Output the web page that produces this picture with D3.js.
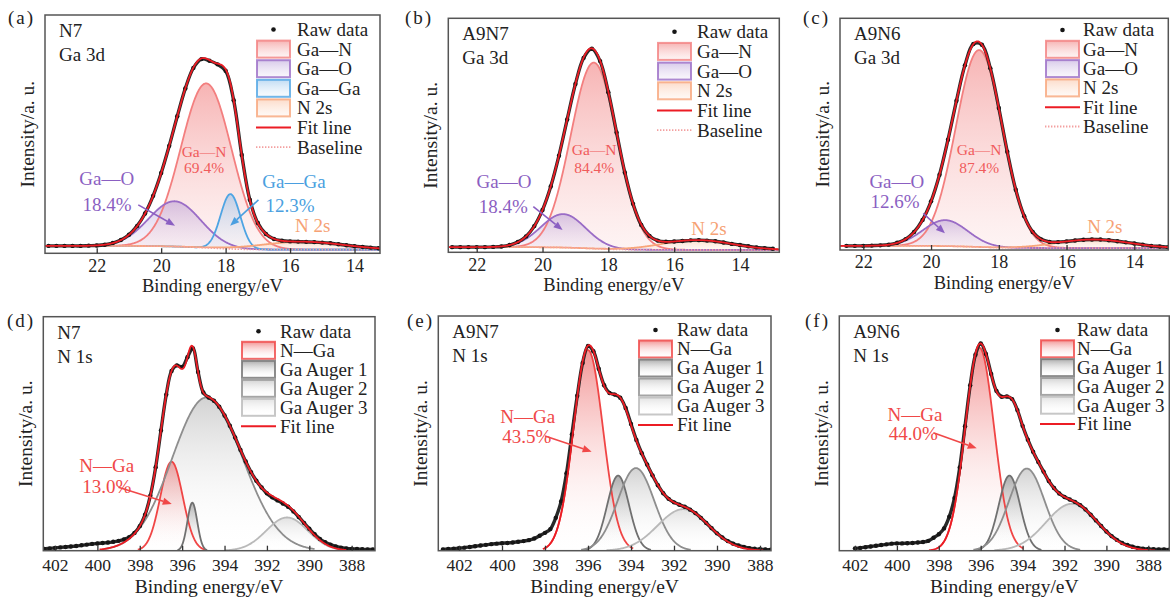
<!DOCTYPE html>
<html>
<head>
<meta charset="utf-8">
<script src="https://cdn.jsdelivr.net/npm/d3@7"></script>
<style>
  html, body { margin: 0; padding: 0; background: #fff; }
  svg { display: block; }
</style>
</head>
<body>
<svg id="fig" width="1170" height="597"></svg>
<script>
// ---------------------------------------------------------------------------
// XPS peak fitting: Ga 3d (top row) and N 1s (bottom row) for N7, A9N7, A9N6.
// Binding energy in eV, intensity in % of the axis height (a. u.).
// ---------------------------------------------------------------------------

const ga3dTicks = [22, 20, 18, 16, 14];
const n1sTicks = [402, 400, 398, 396, 394, 392, 390, 388];

// ----- (a) N7, Ga 3d -----
const rawStartA = 23.5, rawStepA = -0.25;
const rawA = [3.1, 3.1, 3.1, 3.1, 3.1, 3.2, 3.3, 3.6, 4.3, 5.6, 7.8, 11.4, 16.7, 24.1, 33.7,
  45.1, 57.5, 69.2, 77.8, 81.5, 80.8, 79.3, 76.6, 64.2, 41.3, 22.5, 12.7, 8.1, 6.0, 5.3,
  5.0, 4.9, 4.8, 4.7, 4.5, 4.2, 3.8, 3.4, 3.0, 2.7, 2.4, 2.1];
const namesA = ["Ga—N", "Ga—O", "Ga—Ga", "N 2s"];
const centerA = [18.6, 19.58, 17.85, 15.6];
const heightA = [69, 19, 23, 3.3];
const fwhmA = [1.85, 1.9, 0.72, 3.0];
const baselineA = [3.1, 1.5];          // high-BE end, low-BE end
const shareA = ["69.4%", "18.4%", "12.3%"];

// ----- (b) A9N7, Ga 3d -----
const rawStartB = 22.75, rawStepB = -0.25;
const rawB = [2.2, 2.2, 2.2, 2.2, 2.2, 2.3, 2.5, 3.1, 4.4, 6.8, 11.2, 18.1, 28.1, 41.3, 56.8,
  71.9, 83.1, 87.0, 81.7, 68.4, 51.2, 34.1, 20.7, 11.7, 7.0, 5.0, 4.5, 4.6, 4.8, 5.1,
  5.2, 5.0, 4.7, 4.2, 3.6, 3.1, 2.6, 2.1, 1.8, 1.5];
const namesB = ["Ga—N", "Ga—O", "N 2s"];
const centerB = [18.44, 19.37, 15.3];
const heightB = [79.5, 14.3, 4.2];
const fwhmB = [1.65, 1.6, 2.5];
const baselineB = [2.2, 1.0];
const shareB = ["84.4%", "18.4%"];

// ----- (c) A9N6, Ga 3d -----
const rawStartC = 22.5, rawStepC = -0.25;
const rawC = [1.8, 1.8, 1.8, 1.9, 2.0, 2.3, 3.1, 4.7, 7.8, 13.0, 21.0, 32.5, 47.6, 64.4, 79.7,
  88.9, 88.6, 78.4, 61.3, 42.4, 26.0, 14.6, 7.8, 4.6, 3.5, 3.4, 3.7, 4.1, 4.4, 4.5,
  4.5, 4.2, 3.8, 3.3, 2.8, 2.3, 1.8, 1.5, 1.2];
const namesC = ["Ga—N", "Ga—O", "N 2s"];
const centerC = [18.58, 19.58, 15.2];
const heightC = [85, 11.2, 3.7];
const fwhmC = [1.62, 1.55, 2.5];
const baselineC = [1.8, 0.8];
const shareC = ["87.4%", "12.6%"];

// ----- (d) N7, N 1s -----
const rawStartD = 402.5, rawStepD = -0.25;
const rawD = [0.8, 1.0, 1.2, 1.4, 1.6, 1.8, 2.0, 2.3, 2.6, 2.9, 3.1, 3.3, 3.5, 3.8, 4.2,
  4.8, 5.8, 7.6, 10.5, 15.4, 23.5, 35.7, 51.4, 66.7, 76.8, 79.2, 78.5, 82.7, 86.5, 76.4,
  67.6, 65.5, 64.1, 61.5, 57.8, 53.4, 48.4, 43.1, 38.1, 33.6, 29.9, 27.0, 24.5, 22.8, 21.5,
  20.2, 18.8, 16.8, 14.4, 11.9, 9.4, 7.0, 5.0, 3.6, 2.6, 1.8, 1.3, 1.0, 0.8, 0.7,
  0.6, 0.5, 0.5];
const namesN1s = ["N—Ga", "Ga Auger 1", "Ga Auger 2", "Ga Auger 3"];
const centerD = [396.5, 395.52, 394.85, 391.05];
const heightD = [38, 20.5, 65.5, 14.2];
const fwhmHighD = [1.25, 0.55, 3.8, 2.3];   // width on the high-BE side
const fwhmLowD = [1.25, 0.55, 4.0, 2.3];    // width on the low-BE side
const fitWindowD = [399.9, 388.25];
const shareD = "13.0%";

// ----- (e) A9N7, N 1s -----
const rawStartE = 402.75, rawStepE = -0.25;
const rawE = [0.5, 0.7, 0.9, 1.1, 1.3, 1.6, 1.9, 2.2, 2.5, 2.8, 3.0, 3.2, 3.3, 3.5, 3.8,
  4.1, 4.5, 5.2, 6.4, 7.6, 9.2, 14.0, 21.0, 33.0, 49.5, 66.0, 80.0, 87.2, 85.0, 77.5,
  70.5, 67.2, 66.5, 65.2, 60.8, 54.0, 47.2, 41.5, 36.7, 32.1, 27.9, 24.5, 22.1, 20.6, 19.6,
  18.7, 17.5, 16.0, 14.0, 11.8, 9.6, 7.4, 5.6, 4.1, 3.0, 2.2, 1.6, 1.1, 0.8, 0.6,
  0.5, 0.4];
const centerE = [396.0, 394.6, 393.77, 391.57];
const heightE = [85.5, 32, 35.2, 17.7];
const fwhmHighE = [1.6, 1.2, 2.0, 2.8];
const fwhmLowE = [1.65, 1.2, 2.0, 2.8];
const fitWindowE = [398.1, 387.85];
const shareE = "43.5%";

// ----- (f) A9N6, N 1s -----
const rawStartF = 402.0, rawStepF = -0.25;
const rawF = [1.0, 1.2, 1.5, 1.8, 2.1, 2.4, 2.7, 3.0, 3.1, 3.1, 3.2, 3.3, 3.5, 3.7, 4.2,
  5.5, 7.0, 9.5, 14.5, 22.5, 35.5, 53.0, 70.5, 83.5, 88.3, 83.8, 75.3, 68.1, 65.6, 65.7,
  64.6, 59.9, 53.2, 47.3, 42.2, 37.8, 33.7, 29.7, 26.7, 24.4, 22.9, 21.8, 20.8, 19.4, 17.6,
  15.3, 12.9, 10.5, 8.2, 6.2, 4.6, 3.3, 2.4, 1.7, 1.2, 0.9, 0.7, 0.6, 0.5, 0.5,
  0.4];
const centerF = [396.06, 394.63, 393.8, 391.65];
const heightF = [86.5, 32, 35, 20];
const fwhmHighF = [1.6, 1.2, 2.0, 2.9];
const fwhmLowF = [1.65, 1.2, 2.0, 2.9];
const fitWindowF = [398.47, 387.67];
const shareF = "44.0%";

// ---------------------------------------------------------------------------
// Styles
// ---------------------------------------------------------------------------
const SERIF = "'Liberation Serif', 'Times New Roman', Times, serif";
const compStyle = {
  "Ga—N":       { stroke: "#f37f7f", top: "rgba(240,118,118,0.55)", bottom: "rgba(250,210,210,0.25)" },
  "Ga—O":       { stroke: "#9a6cc6", top: "rgba(168,138,208,0.45)", bottom: "rgba(225,212,238,0.2)" },
  "Ga—Ga":      { stroke: "#4ea4e3", top: "rgba(118,178,230,0.45)", bottom: "rgba(222,236,249,0.2)" },
  "N 2s":       { stroke: "#f8a57a", top: "rgba(250,185,150,0.5)",  bottom: "rgba(253,232,218,0.25)" },
  "N—Ga":       { stroke: "#f04545", top: "rgba(236,92,92,0.66)",   bottom: "rgba(255,255,255,0.05)" },
  "Ga Auger 1": { stroke: "#707070", top: "rgba(112,112,112,0.58)", bottom: "rgba(255,255,255,0)" },
  "Ga Auger 2": { stroke: "#8e8e8e", top: "rgba(155,155,155,0.45)", bottom: "rgba(255,255,255,0)" },
  "Ga Auger 3": { stroke: "#b9b9b9", top: "rgba(185,185,185,0.42)", bottom: "rgba(255,255,255,0)" }
};
const FIT_COLOR = "#ec1c24";
const BASE_COLOR = "#f3a0a0";
const RAW_COLOR = "#161616";
const noteColor = { GaN: "#f05b5b", GaO: "#8b5fc2", GaGa: "#4a9fe0", N2s: "#f6a274", NGa: "#f04848" };

// ---------------------------------------------------------------------------
// Panels (layout + data references)
// ---------------------------------------------------------------------------
const panels = [
  { id: "a", tag: "(a)", tagPos: [8, 24], sample: "N7", core: "Ga 3d", kind: "ga3d",
    frame: [45, 15, 380, 253.3], xDomain: [23.605, 13.209], ticks: ga3dTicks,
    raw: [rawStartA, rawStepA, rawA], names: namesA, center: centerA, height: heightA,
    fwhmHigh: fwhmA, fwhmLow: fwhmA, baseline: baselineA,
    legend: { swatchX: 256, textX: 297, y0: 29.5, dy: 19.6 },
    notes: [
      { lines: ["Ga—N", shareA[0]], at: [[18.67, 40.4], [18.67, 33.7]], color: noteColor.GaN, size: 15.5 },
      { lines: ["Ga—O", shareA[1]], at: [[21.69, 28.7], [21.68, 17.75]], color: noteColor.GaO, size: 19,
        arrow: [[20.71, 20.3], [19.57, 11.6]] },
      { lines: ["Ga—Ga", shareA[2]], at: [[15.88, 27.3], [16.0, 17.5]], color: noteColor.GaGa, size: 19,
        arrow: [[16.98, 22.4], [17.86, 11.6]] },
      { lines: ["N 2s"], at: [[15.3, 9.1]], color: noteColor.N2s, size: 19 }
    ] },
  { id: "b", tag: "(b)", tagPos: [405, 24], sample: "A9N7", core: "Ga 3d", kind: "ga3d",
    frame: [448.3, 18.3, 779.3, 252.3], xDomain: [22.863, 12.805], ticks: ga3dTicks,
    raw: [rawStartB, rawStepB, rawB], names: namesB, center: centerB, height: heightB,
    fwhmHigh: fwhmB, fwhmLow: fwhmB, baseline: baselineB,
    legend: { swatchX: 657, textX: 697, y0: 31.7, dy: 19.7 },
    notes: [
      { lines: ["Ga—N", shareB[0]], at: [[18.43, 41.6], [18.43, 33.8]], color: noteColor.GaN, size: 15.5 },
      { lines: ["Ga—O", shareB[1]], at: [[21.17, 27.4], [21.19, 16.7]], color: noteColor.GaO, size: 19,
        arrow: [[20.28, 19.5], [19.39, 9.5]] },
      { lines: ["N 2s"], at: [[14.94, 7.4]], color: noteColor.N2s, size: 19 }
    ] },
  { id: "c", tag: "(c)", tagPos: [803, 24], sample: "A9N6", core: "Ga 3d", kind: "ga3d",
    frame: [840, 18.3, 1168.3, 250], xDomain: [22.688, 12.996], ticks: ga3dTicks,
    raw: [rawStartC, rawStepC, rawC], names: namesC, center: centerC, height: heightC,
    fwhmHigh: fwhmC, fwhmLow: fwhmC, baseline: baselineC,
    legend: { swatchX: 1045, textX: 1083, y0: 30, dy: 19.3 },
    notes: [
      { lines: ["Ga—N", shareC[0]], at: [[18.58, 41.0], [18.58, 33.1]], color: noteColor.GaN, size: 15.5 },
      { lines: ["Ga—O", shareC[1]], at: [[21.01, 26.6], [21.06, 18.0]], color: noteColor.GaO, size: 19,
        arrow: [[20.23, 15.8], [19.59, 7.2]] },
      { lines: ["N 2s"], at: [[14.87, 7.2]], color: noteColor.N2s, size: 19 }
    ] },
  { id: "d", tag: "(d)", tagPos: [7, 327], sample: "N7", core: "N 1s", kind: "n1s",
    frame: [43.3, 316.7, 375, 550.7], xDomain: [402.552, 386.9], ticks: n1sTicks,
    raw: [rawStartD, rawStepD, rawD], names: namesN1s, center: centerD, height: heightD,
    fwhmHigh: fwhmHighD, fwhmLow: fwhmLowD, fitWindow: fitWindowD,
    legend: { swatchX: 241, textX: 280, y0: 331.3, dy: 19.0 },
    notes: [
      { lines: ["N—Ga", shareD], at: [[399.56, 33.8], [399.56, 24.8]], color: noteColor.NGa, size: 19,
        arrow: [[399.01, 27.1], [396.49, 20.0]] }
    ] },
  { id: "e", tag: "(e)", tagPos: [407, 327], sample: "A9N7", core: "N 1s", kind: "n1s",
    frame: [438.3, 316, 771, 550.7], xDomain: [402.963, 387.488], ticks: n1sTicks,
    raw: [rawStartE, rawStepE, rawE], names: namesN1s, center: centerE, height: heightE,
    fwhmHigh: fwhmHighE, fwhmLow: fwhmLowE, fitWindow: fitWindowE,
    legend: { swatchX: 638, textX: 677, y0: 330, dy: 19.0 },
    notes: [
      { lines: ["N—Ga", shareE], at: [[398.80, 54.5], [398.85, 46.0]], color: noteColor.NGa, size: 19,
        arrow: [[398.0, 48.9], [395.83, 42.2]] }
    ] },
  { id: "f", tag: "(f)", tagPos: [805, 327], sample: "A9N6", core: "N 1s", kind: "n1s",
    frame: [839.3, 316, 1169.3, 550.7], xDomain: [402.749, 386.998], ticks: n1sTicks,
    raw: [rawStartF, rawStepF, rawF], names: namesN1s, center: centerF, height: heightF,
    fwhmHigh: fwhmHighF, fwhmLow: fwhmLowF, fitWindow: fitWindowF,
    legend: { swatchX: 1040, textX: 1077, y0: 330, dy: 18.8 },
    notes: [
      { lines: ["N—Ga", shareF], at: [[399.14, 55.4], [399.22, 47.2]], color: noteColor.NGa, size: 19,
        arrow: [[398.26, 50.3], [396.19, 43.6]] }
    ] }
];

// ---------------------------------------------------------------------------
// Helpers
// ---------------------------------------------------------------------------
const svg = d3.select("#fig");
const defs = svg.append("defs");
const FWHM2SIGMA = 1 / (2 * Math.sqrt(2 * Math.LN2));

function peak(E, c) {
  const w = E >= c.c ? c.wHi : c.wLo;
  const s = w * FWHM2SIGMA;
  return c.h * Math.exp(-((E - c.c) * (E - c.c)) / (2 * s * s));
}

function grid(lo, hi, n) {
  return d3.range(n + 1).map(i => lo + (hi - lo) * i / n);
}

function addGradient(id, st) {
  const lg = defs.append("linearGradient").attr("id", id)
    .attr("x1", 0).attr("y1", 0).attr("x2", 0).attr("y2", 1);
  lg.append("stop").attr("offset", "0%").attr("stop-color", st.top);
  lg.append("stop").attr("offset", "100%").attr("stop-color", st.bottom);
}

function label(sel, size, fill) {
  return sel.attr("font-family", SERIF).attr("font-size", size).attr("fill", fill || "#222");
}

function drawPanel(p) {
  const [fx0, fy0, fx1, fy1] = p.frame;
  const x = d3.scaleLinear().domain(p.xDomain).range([fx0, fx1]);
  const y = d3.scaleLinear().domain([0, 100]).range([fy1, fy0]);
  const lo = Math.min(...p.xDomain), hi = Math.max(...p.xDomain);

  const comps = p.names.map((name, i) => ({
    name, c: p.center[i], h: p.height[i], wHi: p.fwhmHigh[i], wLo: p.fwhmLow[i],
    grad: `g-${p.id}-${i}`
  }));
  comps.forEach(c => addGradient(c.grad, compStyle[c.name]));

  const clipId = `clip-${p.id}`;
  defs.append("clipPath").attr("id", clipId)
    .append("rect").attr("x", fx0).attr("y", fy0).attr("width", fx1 - fx0).attr("height", fy1 - fy0);

  const plot = svg.append("g").attr("clip-path", `url(#${clipId})`);
  const area = d3.area().x(d => x(d[0])).y0(d => y(d[1])).y1(d => y(d[2]));
  const line = d3.line().x(d => x(d[0])).y(d => y(d[1]));

  let fitPts, basePts = null;

  if (p.kind === "ga3d") {
    // Shirley-type background built from the fitted peaks
    const E = grid(lo, hi, 800);
    const sum = E.map(e => d3.sum(comps, c => peak(e, c)));
    const cum = [0];
    for (let k = 1; k < E.length; k++) cum.push(cum[k - 1] + (sum[k] + sum[k - 1]) / 2 * (E[k] - E[k - 1]));
    const total = cum[cum.length - 1];
    const [bHigh, bLow] = p.baseline;
    const B = cum.map(v => bLow + (bHigh - bLow) * v / total);

    comps.forEach(c => { c.pts = E.map((e, k) => [e, B[k], B[k] + peak(e, c)]); });
    fitPts = E.map((e, k) => [e, B[k] + sum[k]]);
    basePts = E.map((e, k) => [e, B[k]]);
  } else {
    comps.forEach(c => {
      const a = Math.max(lo, c.c - 3 * c.wLo * FWHM2SIGMA);
      const b = Math.min(hi, c.c + 3 * c.wHi * FWHM2SIGMA);
      c.pts = grid(a, b, 300).map(e => [e, 0, peak(e, c)]);
    });
    const [fHi, fLo] = p.fitWindow;
    fitPts = grid(fLo, fHi, 600).map(e => [e, d3.sum(comps, c => peak(e, c))]);
  }

  // component fills then outlines
  comps.forEach(c => {
    plot.append("path").datum(c.pts).attr("d", area).attr("fill", `url(#${c.grad})`).attr("stroke", "none");
  });
  comps.forEach(c => {
    plot.append("path").datum(c.pts.map(d => [d[0], d[2]])).attr("d", line)
      .attr("fill", "none").attr("stroke", compStyle[c.name].stroke).attr("stroke-width", 1.8);
  });

  if (basePts) {
    plot.append("path").datum(basePts).attr("d", line).attr("fill", "none")
      .attr("stroke", BASE_COLOR).attr("stroke-width", 1.6).attr("stroke-dasharray", "1.4 1.6");
  }

  // raw data
  const [r0, rStep, rVals] = p.raw;
  const rawPts = rVals.map((v, i) => [r0 + rStep * i, v]);
  const rawLine = d3.line().x(d => x(d[0])).y(d => y(d[1])).curve(d3.curveCatmullRom.alpha(0.5));
  plot.append("path").datum(rawPts).attr("d", rawLine)
    .attr("fill", "none").attr("stroke", "#2a2a2a").attr("stroke-width", 3.4);
  plot.append("g").selectAll("circle").data(rawPts).join("circle")
    .attr("cx", d => x(d[0])).attr("cy", d => y(d[1])).attr("r", 2.2).attr("fill", RAW_COLOR);

  // fit envelope
  plot.append("path").datum(fitPts).attr("d", line).attr("fill", "none")
    .attr("stroke", FIT_COLOR).attr("stroke-width", 1.8);

  // frame
  svg.append("rect").attr("x", fx0).attr("y", fy0).attr("width", fx1 - fx0).attr("height", fy1 - fy0)
    .attr("fill", "none").attr("stroke", "#555").attr("stroke-width", 1.5);

  // x axis with inward ticks
  const top = p.kind === "ga3d";
  const ax = svg.append("g").attr("transform", `translate(0,${fy1})`)
    .call(d3.axisBottom(x).tickValues(p.ticks).tickSize(-5).tickSizeOuter(0).tickPadding(top ? 5.5 : 8));
  ax.select(".domain").remove();
  ax.attr("font-family", SERIF).attr("font-size", top ? 18 : 17.5);
  ax.selectAll(".tick line").attr("stroke", "#333").attr("stroke-width", 1.3);
  label(ax.selectAll(".tick text"), top ? 18 : 17.5);

  // axis titles
  label(svg.append("text"), top ? 18.5 : 19.5)
    .attr("x", (fx0 + fx1) / 2).attr("y", fy1 + (top ? 39 : 42))
    .attr("text-anchor", "middle").text("Binding energy/eV");
  label(svg.append("text"), 19.5)
    .attr("transform", `translate(${fx0 - 11},${(fy0 + fy1) / 2}) rotate(-90)`)
    .attr("text-anchor", "middle").text("Intensity/a. u.");

  // panel tag, sample and core level
  label(svg.append("text"), 19).attr("x", p.tagPos[0]).attr("y", p.tagPos[1])
    .attr("letter-spacing", 2).text(p.tag);
  label(svg.append("text"), 19).attr("x", fx0 + 14).attr("y", fy0 + 22).text(p.sample);
  label(svg.append("text"), 19).attr("x", fx0 + 14).attr("y", fy0 + 46).text(p.core);

  // legend
  const L = p.legend, sw = 35, sh = 17;
  const items = [{ type: "raw", label: "Raw data" }]
    .concat(comps.map(c => ({ type: "comp", label: c.name, comp: c })))
    .concat([{ type: "fit", label: "Fit line" }])
    .concat(p.kind === "ga3d" ? [{ type: "base", label: "Baseline" }] : []);
  const lg = svg.append("g");
  items.forEach((it, i) => {
    const cy = L.y0 + i * L.dy;
    if (it.type === "raw") {
      lg.append("circle").attr("cx", L.swatchX + sw / 2).attr("cy", cy).attr("r", 2.3).attr("fill", RAW_COLOR);
    } else if (it.type === "comp") {
      lg.append("rect").attr("x", L.swatchX + 1).attr("y", cy - sh / 2).attr("width", sw - 2).attr("height", sh)
        .attr("fill", `url(#${it.comp.grad})`).attr("stroke", compStyle[it.label].stroke).attr("stroke-width", 2)
        .attr("stroke-opacity", 0.8);
    } else if (it.type === "fit") {
      lg.append("line").attr("x1", L.swatchX).attr("x2", L.swatchX + sw).attr("y1", cy).attr("y2", cy)
        .attr("stroke", FIT_COLOR).attr("stroke-width", 2);
    } else {
      lg.append("line").attr("x1", L.swatchX).attr("x2", L.swatchX + sw).attr("y1", cy).attr("y2", cy)
        .attr("stroke", BASE_COLOR).attr("stroke-width", 1.8).attr("stroke-dasharray", "1.4 1.6");
    }
    label(lg.append("text"), 19).attr("x", L.textX).attr("y", cy).attr("dy", "0.34em").text(it.label);
  });

  // annotations
  p.notes.forEach(n => {
    n.lines.forEach((t, i) => {
      label(svg.append("text"), n.size, n.color)
        .attr("x", x(n.at[i][0])).attr("y", y(n.at[i][1])).attr("text-anchor", "middle").text(t);
    });
    if (n.arrow) {
      const [a, b] = n.arrow;
      const x1 = x(a[0]), y1 = y(a[1]), x2 = x(b[0]), y2 = y(b[1]);
      const ang = Math.atan2(y2 - y1, x2 - x1), len = 9, hw = 3.6;
      const bx = x2 - len * Math.cos(ang), by = y2 - len * Math.sin(ang);
      svg.append("line").attr("x1", x1).attr("y1", y1).attr("x2", bx).attr("y2", by)
        .attr("stroke", n.color).attr("stroke-width", 1.6);
      svg.append("path").attr("fill", n.color).attr("d",
        `M${x2},${y2}L${bx + hw * Math.sin(ang)},${by - hw * Math.cos(ang)}L${bx - hw * Math.sin(ang)},${by + hw * Math.cos(ang)}Z`);
    }
  });
}

panels.forEach(drawPanel);
</script>
</body>
</html>
